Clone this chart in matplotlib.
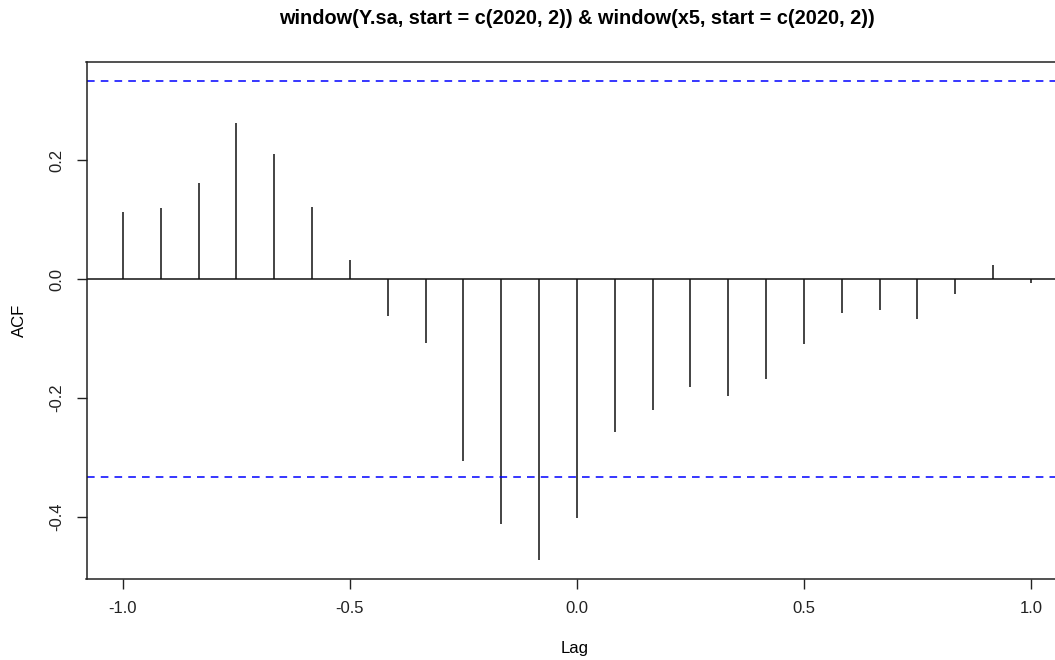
import numpy as np
import matplotlib
matplotlib.use("Agg")
import matplotlib.pyplot as plt

plt.rcParams['font.family'] = ['Liberation Sans', 'DejaVu Sans']

# Cross-correlation at monthly lags (in years)
lags = [-12, -11, -10, -9, -8, -7, -6, -5, -4, -3, -2, -1, 0,
        1, 2, 3, 4, 5, 6, 7, 8, 9, 10, 11, 12]
acf_vals = [0.113, 0.120, 0.162, 0.263, 0.211, 0.121, 0.032, -0.061, -0.108,
            -0.305, -0.411, -0.472, -0.402, -0.257, -0.220, -0.182, -0.197,
            -0.168, -0.109, -0.057, -0.052, -0.066, -0.024, 0.024, -0.006]
n_obs = 36
conf_limit = 2 / np.sqrt(n_obs)

x_ticks = [-1.0, -0.5, 0.0, 0.5, 1.0]
y_ticks = [-0.4, -0.2, 0.0, 0.2]
title = "window(Y.sa, start = c(2020, 2)) & window(x5, start = c(2020, 2))"

W, H = 1055, 660
fig = plt.figure(figsize=(W / 100, H / 100), dpi=100)
left_px, right_px, top_px, bottom_px = 86.5, 1055, 62, 579
ax = fig.add_axes([left_px / W, 1 - bottom_px / H,
                   (right_px - left_px) / W, (bottom_px - top_px) / H])

lag_years = np.array(lags) / 12.0
ax.vlines(lag_years, 0, acf_vals, colors='#111111', linewidth=1.1)
ax.axhline(0, color='#111111', linewidth=1.1)
for c in (conf_limit, -conf_limit):
    ax.axhline(c, color='#0000FF', linewidth=1.1, linestyle=(0, (5, 4)))

ylo = min(min(acf_vals), -conf_limit)
yhi = max(max(acf_vals), conf_limit)
pad = (yhi - ylo) * 0.04
ax.set_ylim(ylo - pad, yhi + pad)
ax.set_xlim(-1.08, -1.0 + (right_px - 123) / 454)

ax.set_xticks(x_ticks)
ax.set_xticklabels([f"{v:.1f}" for v in x_ticks])
ax.set_yticks(y_ticks)
ax.set_yticklabels([f"{v:.1f}" for v in y_ticks], rotation=90, va='center')
ax.tick_params(direction='out', length=7, width=1.0, labelsize=12,
               colors='#222222', pad=9)
for lbl in ax.get_xticklabels() + ax.get_yticklabels():
    lbl.set_color('#222222')

ax.spines['right'].set_visible(False)
for s in ('left', 'top', 'bottom'):
    ax.spines[s].set_linewidth(1.1)
    ax.spines[s].set_color('#222222')

fig.text(577 / W, 1 - 18 / H, title, ha='center', va='center',
         fontsize=14.3, fontweight='bold')
fig.text(575 / W, 1 - 649 / H, "Lag", ha='center', va='center', fontsize=12)
fig.text(19 / W, 1 - 320 / H, "ACF", ha='center', va='center',
         fontsize=12, rotation=90)

fig.savefig("out.png", dpi=100, facecolor='white')
